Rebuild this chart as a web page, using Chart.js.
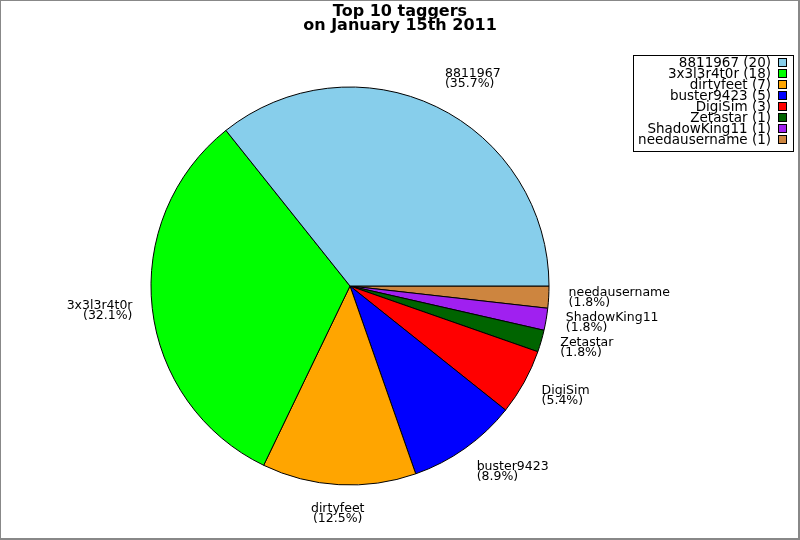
<!DOCTYPE html>
<html lang="en">
<head>
    <meta charset="UTF-8">
    <title>Top 10 taggers</title>
    <style>
        body {
            margin: 0;
            padding: 0;
            background-color: #fff;
        }

        canvas {
            display: block;
        }
    </style>
</head>
<body>
    <canvas id="pieChart" width="800" height="540"></canvas>

    <script src="https://cdn.jsdelivr.net/npm/chart.js"></script>
    <script>
        const titleLines = ['Top 10 taggers', 'on January 15th 2011'];
        const taggers = ['8811967', '3x3l3r4t0r', 'dirtyfeet', 'buster9423', 'DigiSim', 'Zetastar', 'ShadowKing11', 'needausername'];
        const tagCounts = [20, 18, 7, 5, 3, 1, 1, 1];
        const sliceColors = ['#87ceeb', '#00ff00', '#ffa500', '#0000ff', '#ff0000', '#006400', '#a020f0', '#cd853f'];

        const total = tagCounts.reduce((a, b) => a + b, 0);

        // the original runs counter-clockwise from 3 o'clock, so feed the pie reversed
        const pieLabels = taggers.slice().reverse();
        const pieValues = tagCounts.slice().reverse();
        const pieColors = sliceColors.slice().reverse();

        const decorations = {
            id: 'decorations',
            afterDraw(chart) {
                const ctx = chart.ctx;
                ctx.save();

                // frame round the picture
                ctx.fillStyle = '#888';
                ctx.fillRect(0, 0, 800, 1);
                ctx.fillRect(0, 0, 1, 540);
                ctx.fillRect(798, 0, 2, 540);
                ctx.fillRect(0, 538, 800, 2);

                // title
                ctx.fillStyle = '#000';
                ctx.textAlign = 'center';
                ctx.textBaseline = 'alphabetic';
                ctx.font = 'bold 16px "DejaVu Sans"';
                titleLines.forEach((line, i) => {
                    ctx.fillText(line, 400, 16 + i * 14);
                });

                // slice labels
                ctx.font = '12.5px "DejaVu Sans"';
                const meta = chart.getDatasetMeta(0);
                meta.data.forEach((arc, i) => {
                    const mid = (arc.startAngle + arc.endAngle) / 2;
                    const r = arc.outerRadius * 1.1;
                    const c = Math.cos(mid);
                    const s = -Math.sin(mid);
                    const px = arc.x + r * c;
                    const py = arc.y - r * s;
                    let align = 'center';
                    if (c > 0.1) align = 'left';
                    if (c < -0.1) align = 'right';
                    ctx.textAlign = align;
                    const top = py - 10 * (1 + s);
                    const pct = (pieValues[i] / total * 100).toFixed(1);
                    ctx.fillText(pieLabels[i], px, top + 7);
                    ctx.fillText('(' + pct + '%)', px, top + 17);
                });

                // legend
                ctx.lineWidth = 1;
                ctx.strokeStyle = '#000';
                ctx.fillStyle = '#fff';
                ctx.fillRect(633.5, 55.5, 160, 96);
                ctx.strokeRect(633.5, 55.5, 160, 96);
                ctx.font = '13.5px "DejaVu Sans"';
                ctx.textAlign = 'right';
                taggers.forEach((name, i) => {
                    const y = 67 + i * 11;
                    ctx.fillStyle = '#000';
                    ctx.fillText(name + ' (' + tagCounts[i] + ')', 771, y);
                    ctx.fillStyle = sliceColors[i];
                    ctx.fillRect(778.5, y - 8.5, 8, 8);
                    ctx.strokeRect(778.5, y - 8.5, 8, 8);
                });

                ctx.restore();
            }
        };

        const ctx = document.getElementById('pieChart').getContext('2d');
        new Chart(ctx, {
            type: 'pie',
            data: {
                labels: pieLabels,
                datasets: [{
                    data: pieValues,
                    backgroundColor: pieColors,
                    borderColor: '#000',
                    borderWidth: 1,
                    radius: 199
                }]
            },
            options: {
                responsive: false,
                devicePixelRatio: 1,
                animation: false,
                rotation: 90,
                layout: {
                    padding: { left: 100, right: 200, top: 82, bottom: 50 }
                },
                plugins: {
                    legend: { display: false },
                    title: { display: false },
                    tooltip: { enabled: false }
                }
            },
            plugins: [decorations]
        });
    </script>
</body>
</html>
